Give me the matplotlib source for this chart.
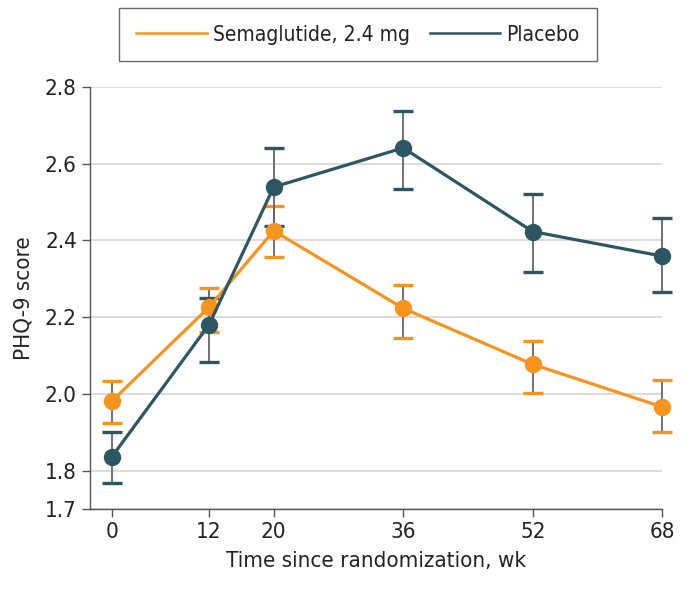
import matplotlib.pyplot as plt
from matplotlib import font_manager

# PHQ-9 score over time
weeks = [0, 12, 20, 36, 52, 68]

sema_mean = [1.981, 2.226, 2.425, 2.223, 2.077, 1.966]
sema_low = [1.925, 2.160, 2.356, 2.145, 2.002, 1.901]
sema_high = [2.034, 2.277, 2.489, 2.285, 2.138, 2.037]

plac_mean = [1.836, 2.180, 2.539, 2.641, 2.423, 2.359]
plac_low = [1.769, 2.083, 2.437, 2.533, 2.318, 2.265]
plac_high = [1.901, 2.251, 2.642, 2.737, 2.521, 2.459]

y_ticks = [1.7, 1.8, 2.0, 2.2, 2.4, 2.6, 2.8]
y_tick_labels = ['1.7', '1.8', '2.0', '2.2', '2.4', '2.6', '2.8']

ORANGE = '#F7941D'
TEAL = '#2D5663'
STEM = '#666666'

# narrow font if there is one, the original uses a condensed face
condensed = any(f.name == 'DejaVu Sans' and f.stretch == 'condensed'
                for f in font_manager.fontManager.ttflist)
plt.rcParams['font.family'] = ['DejaVu Sans']
if condensed:
    plt.rcParams['font.stretch'] = 'condensed'
    fs, lfs = 16, 15
else:
    fs, lfs = 14, 13

fig = plt.figure(figsize=(6.92, 5.91), dpi=100)
ax = fig.add_axes([0.130, 0.1387, 0.827, 0.7143])


def draw(mean, low, high, color, label):
    err = [[m - l for m, l in zip(mean, low)], [h - m for m, h in zip(mean, high)]]
    eb = ax.errorbar(weeks, mean, yerr=err, fmt='none', ecolor=STEM,
                     elinewidth=1.3, capsize=7, capthick=2.4, zorder=3)
    for cap in eb[1]:
        cap.set_markeredgecolor(color)
        cap.set_clip_on(False)
    for bar in eb[2]:
        bar.set_clip_on(False)
    ax.plot(weeks, mean, color=color, lw=2.3, marker='o', ms=11.5,
            label=label, zorder=4, clip_on=False)


draw(sema_mean, sema_low, sema_high, ORANGE, 'Semaglutide, 2.4 mg')
draw(plac_mean, plac_low, plac_high, TEAL, 'Placebo')

ax.set_xlim(-2.7, 68)
ax.set_ylim(1.7, 2.8)
ax.set_xticks(weeks)
ax.set_yticks(y_ticks)
ax.set_yticklabels(y_tick_labels)
ax.tick_params(labelsize=fs, length=6, width=1, color='#555555', labelcolor='#222222')

for s in ['top', 'right']:
    ax.spines[s].set_visible(False)
for s in ['left', 'bottom']:
    ax.spines[s].set_color('#555555')
    ax.spines[s].set_linewidth(1)

ax.yaxis.grid(True, color='#dcdcdc', lw=1.4)
ax.set_axisbelow(True)

ax.set_xlabel('Time since randomization, wk', fontsize=fs, labelpad=6, color='#222222')
ax.set_ylabel('PHQ-9 score', fontsize=fs, labelpad=8, color='#222222')

handles, labels = ax.get_legend_handles_labels()
handles = [plt.Line2D([], [], color=h.get_color(), lw=1.8) for h in handles]
leg = fig.legend(handles, labels, loc='upper left', ncol=2,
                 bbox_to_anchor=(119 / 692, 1 - 8 / 591), borderaxespad=0,
                 fontsize=lfs, frameon=True, fancybox=False,
                 edgecolor='#444444', handlelength=3.4, columnspacing=0.95,
                 borderpad=0.8, handletextpad=0.3, labelcolor='#222222')
leg.get_frame().set_linewidth(1)

fig.savefig('out.png', dpi=100)
